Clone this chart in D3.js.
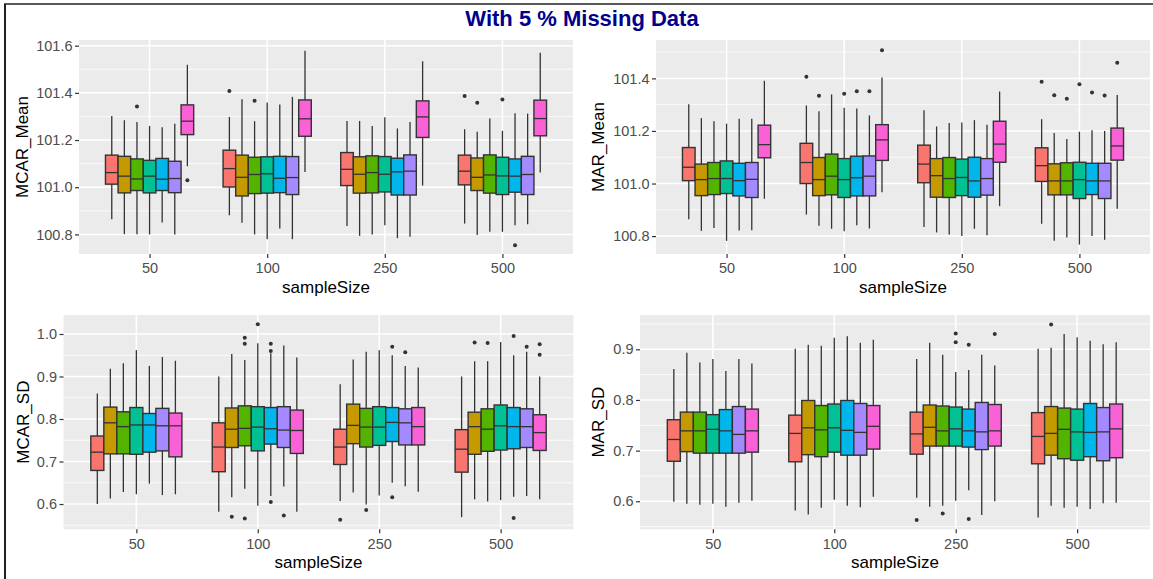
<!DOCTYPE html>
<html>
<head>
<meta charset="utf-8">
<script src="https://cdn.jsdelivr.net/npm/d3@7"></script>
<style>
  body { margin: 0; background: #fff; }
  svg { display: block; font-family: "Liberation Sans", Arial, Helvetica, sans-serif; }
</style>
</head>
<body>
<div id="chart"></div>
<script>
// Boxplot stats per sample size, per method: [lower whisker, q1, median, q3, upper whisker]
const sampleSizes = ["50", "100", "250", "500"];
const methods = ["m1", "m2", "m3", "m4", "m5", "m6", "m7"];
const methodColors = ["#F8766D", "#C49A00", "#53B400", "#00C094", "#00B6EB", "#A58AFF", "#FB61D7"];

const mcarMean = [
  [[100.864, 101.013, 101.062, 101.136, 101.302], [100.801, 100.976, 101.047, 101.131, 101.284],
   [100.801, 100.986, 101.035, 101.120, 101.276], [100.800, 100.976, 101.047, 101.114, 101.260],
   [100.850, 100.986, 101.034, 101.122, 101.254], [100.800, 100.977, 101.037, 101.110, 101.269],
   [101.089, 101.223, 101.280, 101.349, 101.519]],
  [[100.881, 101.001, 101.079, 101.157, 101.298], [100.849, 100.963, 101.042, 101.136, 101.373],
   [100.800, 100.973, 101.054, 101.127, 101.280], [100.780, 100.975, 101.057, 101.129, 101.359],
   [100.825, 100.977, 101.038, 101.131, 101.351], [100.780, 100.969, 101.041, 101.130, 101.383],
   [101.065, 101.216, 101.290, 101.370, 101.578]],
  [[100.836, 101.007, 101.076, 101.147, 101.281], [100.794, 100.975, 101.055, 101.129, 101.281],
   [100.800, 100.976, 101.062, 101.133, 101.260], [100.839, 100.980, 101.055, 101.130, 101.297],
   [100.784, 100.967, 101.065, 101.123, 101.249], [100.790, 100.967, 101.068, 101.137, 101.276],
   [101.007, 101.211, 101.298, 101.366, 101.534]],
  [[100.846, 101.010, 101.068, 101.136, 101.246], [100.798, 100.986, 101.042, 101.124, 101.235],
   [100.811, 100.975, 101.052, 101.137, 101.291], [100.811, 100.969, 101.048, 101.127, 101.239],
   [100.839, 100.979, 101.047, 101.120, 101.314], [100.843, 100.969, 101.054, 101.131, 101.312],
   [101.062, 101.218, 101.291, 101.369, 101.570]]
];
// outliers: [sampleSize index, method index, value]
const mcarMeanOut = [
  [0, 2, 101.342], [0, 6, 101.030], [1, 0, 101.408], [1, 2, 101.367],
  [3, 0, 101.387], [3, 1, 101.358], [3, 3, 101.372], [3, 4, 100.754]
];

const marMean = [
  [[100.864, 101.011, 101.062, 101.137, 101.302], [100.820, 100.954, 101.015, 101.074, 101.249],
   [100.831, 100.958, 101.019, 101.080, 101.237], [100.782, 100.962, 101.019, 101.086, 101.228],
   [100.821, 100.953, 101.011, 101.077, 101.246], [100.822, 100.947, 101.016, 101.080, 101.246],
   [100.942, 101.098, 101.148, 101.222, 101.391]],
  [[100.882, 101.000, 101.080, 101.153, 101.297], [100.839, 100.954, 101.015, 101.099, 101.275],
   [100.828, 100.957, 101.028, 101.112, 101.339], [100.819, 100.947, 101.015, 101.095, 101.288],
   [100.841, 100.953, 101.022, 101.104, 101.285], [100.829, 100.953, 101.028, 101.105, 101.259],
   [100.967, 101.088, 101.166, 101.224, 101.403]],
  [[100.835, 101.003, 101.074, 101.146, 101.279], [100.814, 100.948, 101.030, 101.095, 101.217],
   [100.806, 100.947, 101.019, 101.099, 101.230], [100.800, 100.954, 101.023, 101.093, 101.232],
   [100.828, 100.948, 101.010, 101.100, 101.241], [100.803, 100.956, 101.019, 101.095, 101.224],
   [100.914, 101.081, 101.150, 101.237, 101.350]],
  [[100.847, 101.008, 101.068, 101.136, 101.245], [100.782, 100.957, 101.010, 101.075, 101.192],
   [100.795, 100.957, 101.010, 101.079, 101.169], [100.768, 100.943, 101.015, 101.081, 101.197],
   [100.800, 100.958, 101.010, 101.077, 101.203], [100.786, 100.943, 101.010, 101.077, 101.200],
   [100.904, 101.089, 101.143, 101.211, 101.337]]
];
const marMeanOut = [
  [1, 0, 101.406], [1, 1, 101.334], [1, 3, 101.342], [1, 4, 101.351], [1, 5, 101.351], [1, 6, 101.507],
  [3, 0, 101.387], [3, 1, 101.336], [3, 2, 101.323], [3, 3, 101.378], [3, 4, 101.346], [3, 5, 101.335],
  [3, 6, 101.459]
];

const mcarSd = [
  [[0.600, 0.679, 0.722, 0.760, 0.860], [0.613, 0.718, 0.791, 0.828, 0.918],
   [0.628, 0.718, 0.782, 0.817, 0.931], [0.623, 0.717, 0.786, 0.827, 0.962],
   [0.648, 0.722, 0.786, 0.813, 0.925], [0.621, 0.725, 0.784, 0.825, 0.946],
   [0.623, 0.711, 0.784, 0.814, 0.937]],
  [[0.582, 0.676, 0.734, 0.791, 0.900], [0.616, 0.733, 0.776, 0.826, 0.953],
   [0.636, 0.737, 0.778, 0.831, 0.939], [0.596, 0.725, 0.781, 0.829, 0.978],
   [0.619, 0.741, 0.777, 0.827, 0.955], [0.641, 0.733, 0.774, 0.829, 0.973],
   [0.582, 0.719, 0.773, 0.821, 0.945]],
  [[0.607, 0.693, 0.734, 0.776, 0.882], [0.627, 0.742, 0.785, 0.835, 0.940],
   [0.599, 0.734, 0.781, 0.825, 0.958], [0.620, 0.738, 0.781, 0.829, 0.962],
   [0.650, 0.747, 0.792, 0.827, 0.950], [0.642, 0.739, 0.791, 0.824, 0.925],
   [0.629, 0.739, 0.782, 0.827, 0.921]],
  [[0.569, 0.675, 0.729, 0.775, 0.900], [0.611, 0.717, 0.782, 0.816, 0.936],
   [0.606, 0.724, 0.776, 0.824, 0.936], [0.609, 0.727, 0.784, 0.833, 0.981],
   [0.617, 0.730, 0.782, 0.827, 0.950], [0.619, 0.733, 0.782, 0.824, 0.958],
   [0.611, 0.726, 0.768, 0.810, 0.900]]
];
const mcarSdOut = [
  [1, 1, 0.570], [1, 2, 0.991], [1, 2, 0.977], [1, 2, 0.566], [1, 3, 1.023], [1, 4, 0.977],
  [1, 4, 0.960], [1, 4, 0.605], [1, 5, 0.573], [2, 0, 0.563], [2, 2, 0.586], [2, 4, 0.970],
  [2, 4, 0.616], [2, 5, 0.957], [3, 1, 0.980], [3, 2, 0.979], [3, 4, 0.995], [3, 4, 0.567],
  [3, 5, 0.970], [3, 6, 0.976], [3, 6, 0.951]
];

const marSd = [
  [[0.599, 0.679, 0.722, 0.761, 0.861], [0.595, 0.698, 0.739, 0.776, 0.893],
   [0.593, 0.695, 0.739, 0.776, 0.874], [0.595, 0.695, 0.742, 0.771, 0.881],
   [0.589, 0.695, 0.739, 0.781, 0.857], [0.597, 0.695, 0.732, 0.787, 0.881],
   [0.601, 0.697, 0.739, 0.782, 0.872]],
  [[0.582, 0.678, 0.734, 0.770, 0.901], [0.574, 0.692, 0.745, 0.799, 0.909],
   [0.587, 0.688, 0.741, 0.789, 0.907], [0.603, 0.697, 0.745, 0.792, 0.923],
   [0.591, 0.691, 0.740, 0.799, 0.926], [0.588, 0.691, 0.736, 0.793, 0.913],
   [0.609, 0.703, 0.748, 0.789, 0.919]],
  [[0.607, 0.693, 0.733, 0.776, 0.881], [0.589, 0.709, 0.746, 0.790, 0.913],
   [0.591, 0.709, 0.739, 0.788, 0.889], [0.601, 0.709, 0.743, 0.786, 0.855],
   [0.622, 0.707, 0.739, 0.782, 0.859], [0.573, 0.702, 0.737, 0.795, 0.889],
   [0.600, 0.709, 0.739, 0.791, 0.868]],
  [[0.568, 0.674, 0.728, 0.775, 0.901], [0.591, 0.691, 0.734, 0.787, 0.903],
   [0.587, 0.684, 0.742, 0.784, 0.930], [0.589, 0.681, 0.737, 0.782, 0.924],
   [0.585, 0.688, 0.736, 0.793, 0.917], [0.596, 0.680, 0.737, 0.785, 0.910],
   [0.597, 0.686, 0.743, 0.792, 0.914]]
];
const marSdOut = [
  [2, 0, 0.563], [2, 2, 0.576], [2, 3, 0.931], [2, 3, 0.914], [2, 4, 0.909], [2, 4, 0.565],
  [2, 6, 0.930], [3, 1, 0.949]
];

const meanTicks = [100.8, 101.0, 101.2, 101.4, 101.6];
const meanMinor = [100.9, 101.1, 101.3, 101.5];
const sdTicks = [0.6, 0.7, 0.8, 0.9, 1.0];
const sdMinor = [0.55, 0.65, 0.75, 0.85, 0.95];

const W = 1153, H = 579;

const panels = [
  { label: "MCAR_Mean", stats: mcarMean, out: mcarMeanOut, domain: [100.717, 101.624],
    ticks: meanTicks, minor: meanMinor, rect: { left: 79, right: 573, top: 40, bottom: 254 }, titleX: 28 },
  { label: "MAR_Mean", stats: marMean, out: marMeanOut, domain: [100.732, 101.546],
    ticks: meanTicks, minor: meanMinor, rect: { left: 656, right: 1150, top: 40, bottom: 254 }, titleX: 604 },
  { label: "MCAR_SD", stats: mcarSd, out: mcarSdOut, domain: [0.5405, 1.0447],
    ticks: sdTicks, minor: sdMinor, rect: { left: 63.5, right: 573.5, top: 315, bottom: 529.3 }, titleX: 29 },
  { label: "MAR_SD", stats: marSd, out: marSdOut, domain: [0.5447, 0.9677],
    ticks: sdTicks, minor: sdMinor, rect: { left: 640, right: 1150, top: 315, bottom: 529.3 }, titleX: 604 }
];

const svg = d3.select("#chart").append("svg")
  .attr("width", W).attr("height", H);

svg.append("rect").attr("width", W).attr("height", H).attr("fill", "#fff");

// frame lines (top + left only)
svg.append("line").attr("x1", 4).attr("x2", W).attr("y1", 4).attr("y2", 4)
  .attr("stroke", "#222").attr("stroke-width", 1.5);
svg.append("line").attr("x1", 5).attr("x2", 5).attr("y1", 4).attr("y2", H)
  .attr("stroke", "#222").attr("stroke-width", 2);

svg.append("text")
  .attr("x", 582).attr("y", 26)
  .attr("text-anchor", "middle")
  .attr("font-size", 22).attr("font-weight", "bold")
  .attr("fill", "#00008B")
  .text("With 5 % Missing Data");

panels.forEach(p => {
  const r = p.rect;
  const x = d3.scalePoint().domain(sampleSizes).range([r.left, r.right]).padding(0.6);
  const dodge = d3.scaleBand().domain(methods)
    .range([-0.375 * x.step(), 0.375 * x.step()]);
  const y = d3.scaleLinear().domain(p.domain).range([r.bottom, r.top]);
  const g = svg.append("g");

  g.append("rect")
    .attr("x", r.left).attr("y", r.top)
    .attr("width", r.right - r.left).attr("height", r.bottom - r.top)
    .attr("fill", "#EBEBEB");

  const minor = p.minor.filter(v => y(v) >= r.top && y(v) <= r.bottom);
  g.selectAll(".minor").data(minor).join("line")
    .attr("x1", r.left).attr("x2", r.right)
    .attr("y1", d => y(d)).attr("y2", d => y(d))
    .attr("stroke", "#fff").attr("stroke-width", 0.8);

  const major = p.ticks.filter(v => y(v) >= r.top && y(v) <= r.bottom);
  g.selectAll(".major").data(major).join("line")
    .attr("x1", r.left).attr("x2", r.right)
    .attr("y1", d => y(d)).attr("y2", d => y(d))
    .attr("stroke", "#fff").attr("stroke-width", 1.5);

  g.selectAll(".vmajor").data(sampleSizes).join("line")
    .attr("x1", d => x(d)).attr("x2", d => x(d))
    .attr("y1", r.top).attr("y2", r.bottom)
    .attr("stroke", "#fff").attr("stroke-width", 1.5);

  // boxes
  const boxes = [];
  p.stats.forEach((row, si) => row.forEach((s, mi) => boxes.push({ si, mi, s })));
  const bw = dodge.bandwidth();
  const cx = d => x(sampleSizes[d.si]) + dodge(methods[d.mi]) + bw / 2;

  const bg = g.selectAll(".box").data(boxes).join("g");
  bg.append("line")
    .attr("x1", cx).attr("x2", cx)
    .attr("y1", d => y(d.s[0])).attr("y2", d => y(d.s[4]))
    .attr("stroke", "#333").attr("stroke-width", 1.3);
  bg.append("rect")
    .attr("x", d => cx(d) - bw / 2).attr("width", bw)
    .attr("y", d => y(d.s[3])).attr("height", d => y(d.s[1]) - y(d.s[3]))
    .attr("fill", d => methodColors[d.mi])
    .attr("stroke", "#333").attr("stroke-width", 1.4);
  bg.append("line")
    .attr("x1", d => cx(d) - bw / 2).attr("x2", d => cx(d) + bw / 2)
    .attr("y1", d => y(d.s[2])).attr("y2", d => y(d.s[2]))
    .attr("stroke", "#333").attr("stroke-width", 1.3);

  g.selectAll(".outlier").data(p.out).join("circle")
    .attr("cx", d => cx({ si: d[0], mi: d[1] }))
    .attr("cy", d => y(d[2]))
    .attr("r", 2)
    .attr("fill", "#333");

  // axes
  const yAxis = g.append("g").attr("transform", `translate(${r.left},0)`)
    .call(d3.axisLeft(y).tickValues(major).tickFormat(d3.format(".1f")).tickSize(4).tickPadding(2.5));
  const xAxis = g.append("g").attr("transform", `translate(0,${r.bottom})`)
    .call(d3.axisBottom(x).tickSize(4).tickPadding(5));
  [yAxis, xAxis].forEach(a => {
    a.select(".domain").remove();
    a.selectAll(".tick line").attr("stroke", "#333").attr("stroke-width", 1.2);
    a.selectAll(".tick text").attr("fill", "#4D4D4D").attr("font-size", 14.5)
      .attr("font-family", "'Liberation Sans', Arial, sans-serif");
  });

  g.append("text")
    .attr("x", (r.left + r.right) / 2).attr("y", r.bottom + 39)
    .attr("text-anchor", "middle").attr("font-size", 17).attr("fill", "#000")
    .text("sampleSize");

  g.append("text")
    .attr("transform", `translate(${p.titleX},${(r.top + r.bottom) / 2}) rotate(-90)`)
    .attr("text-anchor", "middle").attr("font-size", 17).attr("fill", "#000")
    .text(p.label);
});
</script>
</body>
</html>
